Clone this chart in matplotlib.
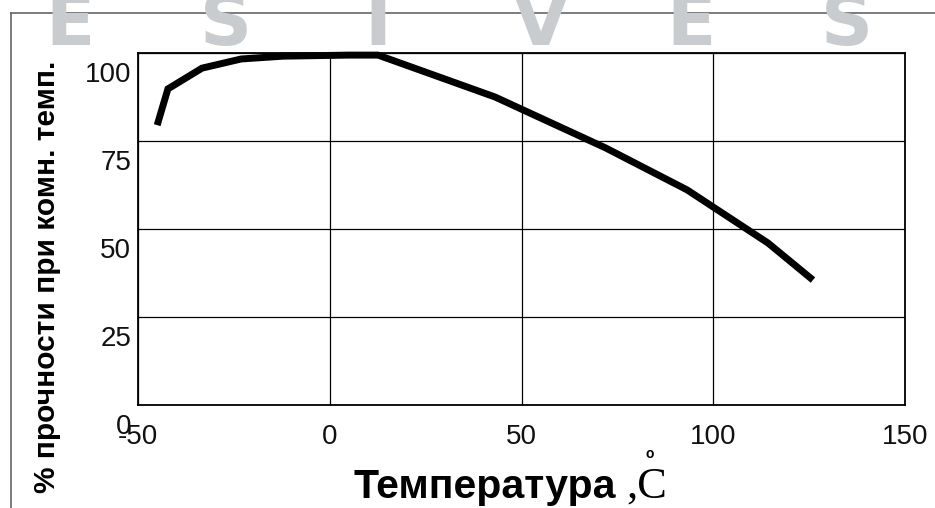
import numpy as np
import matplotlib
matplotlib.use('Agg')
import matplotlib.pyplot as plt
import matplotlib.transforms as mtransforms
from matplotlib.lines import Line2D

# values
temp = [-45.0, -42.2, -33.3, -23.1, -12.2, 4.8, 12.6, 43.1, 72.0, 93.2, 114.3, 126.0]
strength = [79.5, 89.8, 95.7, 98.3, 99.1, 99.4, 99.4, 87.5, 73.0, 61.1, 46.0, 35.5]
xticks = [-50, 0, 50, 100, 150]
yticks = [0, 25, 50, 75, 100]
watermark = ['E', 'S', 'I', 'V', 'E', 'S']
wm_x = [70, 226, 378, 541, 691, 847]   # letter centres, px

W, H = 935, 508
fig = plt.figure(figsize=(W / 100, H / 100), dpi=100)
ax = fig.add_axes([138 / W, 1 - 405 / H, (905 - 138) / W, (405 - 53) / H])

ax.plot(temp, strength, color='black', lw=5.0, solid_joinstyle='miter',
        solid_capstyle='butt', clip_on=False, zorder=3)

ax.set_xlim(-50, 150)
ax.set_ylim(0, 100)
ax.set_xticks(xticks)
ax.set_yticks(yticks)
ax.set_xticklabels([str(t) for t in xticks])
ax.set_yticklabels([str(t) for t in yticks])
ax.grid(True, color='black', lw=0.9)
ax.tick_params(length=0, labelsize=20, colors='#111111')
ax.tick_params(axis='x', pad=14)
ax.tick_params(axis='y', pad=5)
for s in ax.spines.values():
    s.set_linewidth(1.3)

# tick labels in the source sit a bit below their grid lines
off = mtransforms.ScaledTranslation(0, -0.195, fig.dpi_scale_trans)
for lab in ax.get_yticklabels():
    lab.set_transform(lab.get_transform() + off)
    lab.set_fontfamily('Liberation Sans')
for lab in ax.get_xticklabels():
    lab.set_fontfamily('Liberation Sans')

# axis titles
fig.text(47 / W, 1 - 277 / H, '% прочности при комн. темп.', rotation=90,
         ha='center', va='center', fontsize=21.5, fontweight='bold',
         family='Liberation Sans')
fig.text(353 / W, 1 - 498 / H, 'Температура', ha='left', va='baseline',
         fontsize=29.5, fontweight='bold', family='Liberation Sans')
fig.text(667 / W, 1 - 498 / H, ',C', ha='right', va='baseline',
         fontsize=32, family='Liberation Serif')
fig.text(650 / W, 1 - 454 / H, 'o', ha='center', va='center',
         fontsize=10, fontweight='bold', family='Liberation Sans')

# grey frame around the figure
fig.add_artist(Line2D([11 / W, 1], [1 - 12.5 / H, 1 - 12.5 / H], color='#666666', lw=1.2))
fig.add_artist(Line2D([11 / W, 11 / W], [0, 1 - 12.5 / H], color='#666666', lw=1.2))

# watermark letters across the top
for ch, xc in zip(watermark, wm_x):
    fig.text(xc / W, 1 - 45 / H, ch, ha='center', va='baseline', fontsize=52,
             fontweight='heavy', color='#c9cccf', family='DejaVu Sans',
             zorder=10)

fig.savefig('out.png', dpi=100)
